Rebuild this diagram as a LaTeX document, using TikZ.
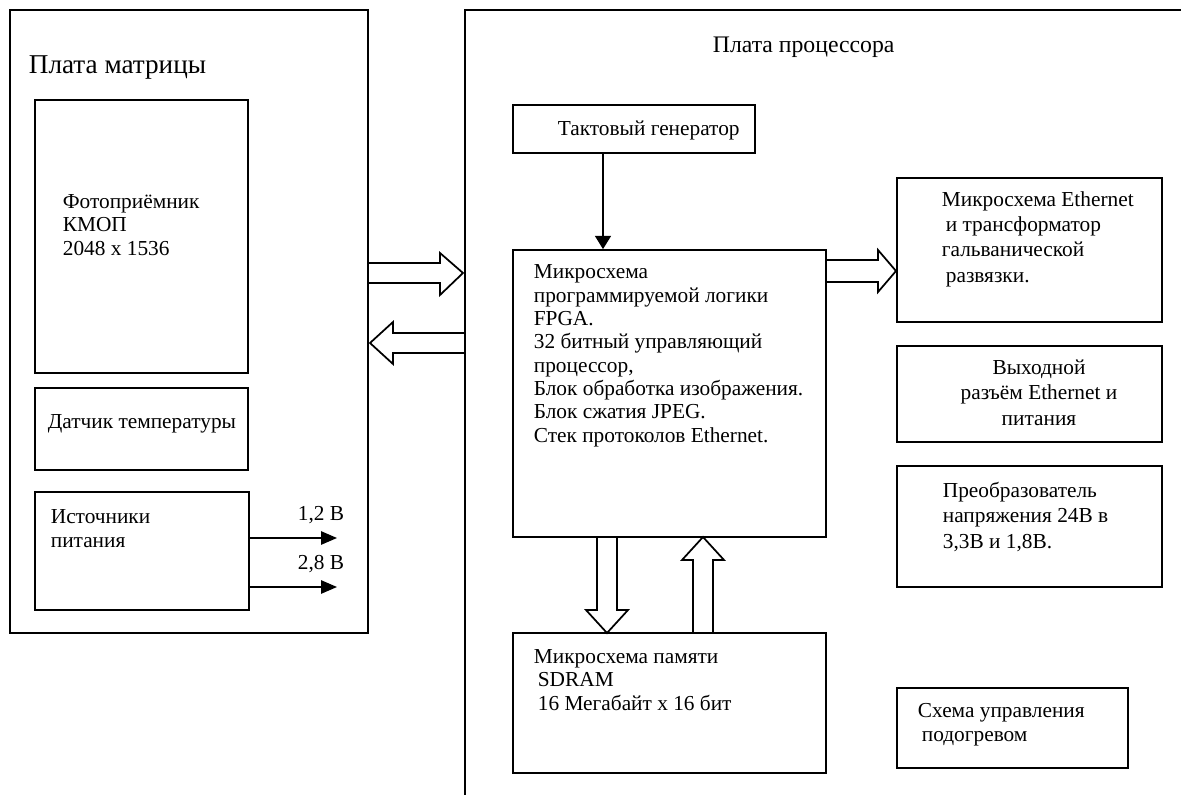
\documentclass[tikz,border=0pt]{standalone}
\usepackage{fontspec}
\setmainfont{Liberation Serif}
\usetikzlibrary{arrows.meta,fit}
\begin{document}
\begin{tikzpicture}[x=0.75pt,y=-0.75pt,line width=1.3pt,
  box/.style={draw,inner sep=0pt,fit={#1}},
  txt/.style={anchor=base west,inner sep=0pt,align=left,font=\fontsize{16}{17.5}\selectfont},
  wtxt/.style={anchor=base west,inner sep=0pt,align=left,font=\fontsize{16}{19}\selectfont},
  ctxt/.style={anchor=base,inner sep=0pt,align=center,font=\fontsize{16}{19}\selectfont},
  ttl/.style={anchor=base west,inner sep=0pt},
  hollow/.style={draw,line width=1.3pt,line join=miter},
  solidarrow/.style={-{Triangle[length=12pt,width=10pt]}},
  clkarrow/.style={-{Triangle[length=10pt,width=12pt]}}]
\useasboundingbox (0,0) rectangle (1181,795);
\fill[white] (0,0) rectangle (1181,795);
% boards
\node[box={(10,10) (368,633)}] (matrix) {};
\draw (1181,10) coordinate (ptr) -- (465,10) coordinate (ptl) -- (465,795) coordinate (pbl);
\node[ttl,font=\fontsize{20.4}{24}\selectfont] (tmatrix) at (28,74) {Плата матрицы};
\node[ttl,font=\fontsize{17.8}{21}\selectfont] (tproc) at (712,53) {Плата процессора};
% matrix board blocks
\node[box={(35,100) (248,373)}] (photo) {};
\node[txt] (tphoto) at (62,255) {Фотоприёмник\\КМОП\\2048 x 1536};
\node[box={(35,388) (248,470)}] (temp) {};
\node[txt] (ttemp) at (47,428) {Датчик температуры};
\node[box={(35,492) (249,610)}] (pwr) {};
\node[txt] (tpwr) at (50,547) {Источники\\питания};
\coordinate (p1) at (337,538);
\coordinate (p2) at (337,587);
\draw[solidarrow] (pwr.east |- p1) -- (p1);
\draw[solidarrow] (pwr.east |- p2) -- (p2);
\node[txt] (tp1) at (297,520) {1,2 В};
\node[txt] (tp2) at (297,569) {2,8 В};
% inter-board hollow arrows
\draw[hollow] (368,263) -- (440,263) -- (440,253) -- (463,273) -- (440,295) -- (440,283) -- (368,283);
\draw[hollow] (465,333) -- (393,333) -- (393,322) -- (370,343) -- (393,364) -- (393,353) -- (465,353);
% processor blocks
\node[box={(513,105) (755,153)}] (clk) {};
\node[txt] (tclk) at (557,136) {Тактовый генератор};
\node[box={(513,250) (826,537)}] (fpga) {};
\node[txt] (tfpga) at (533,442) {Микросхема\\программируемой логики\\FPGA.\\32 битный управляющий\\процессор,\\Блок обработка изображения.\\Блок сжатия JPEG.\\Стек протоколов Ethernet.};
\coordinate (clkx) at (603,0);
\draw[clkarrow] (clk.south -| clkx) -- (fpga.north -| clkx);
\node[box={(897,178) (1162,322)}] (eth) {};
\node[wtxt] (teth) at (941,282) {Микросхема Ethernet\\\hspace{3pt}и трансформатор\\гальванической\\\hspace{3pt}развязки.};
\draw[hollow] (826,260) -- (878,260) -- (878,250) -- (896,271) -- (878,292) -- (878,282) -- (826,282);
\node[box={(897,346) (1162,442)}] (out) {};
\node[ctxt] (tout) at (1039,425) {Выходной\\разъём Ethernet и\\питания};
\node[box={(897,466) (1162,587)}] (conv) {};
\node[wtxt] (tconv) at (942,548) {Преобразователь\\напряжения 24В в\\3,3В и 1,8В.};
\node[box={(897,688) (1128,768)}] (heat) {};
\node[txt] (theat) at (917,741) {Схема управления\\\hspace{3pt}подогревом};
\node[box={(513,633) (826,773)}] (sdram) {};
\node[txt] (tsdram) at (533,710) {Микросхема памяти\\\hspace{3pt}SDRAM\\\hspace{3pt}16 Мегабайт x 16 бит};
% FPGA <-> SDRAM hollow arrows
\draw[hollow] (597,537) -- (597,610) -- (586,610) -- (607,633) -- (628,610) -- (617,610) -- (617,537);
\draw[hollow] (693,633) -- (693,560) -- (682,560) -- (703,537) -- (724,560) -- (713,560) -- (713,633);
\end{tikzpicture}
\end{document}
